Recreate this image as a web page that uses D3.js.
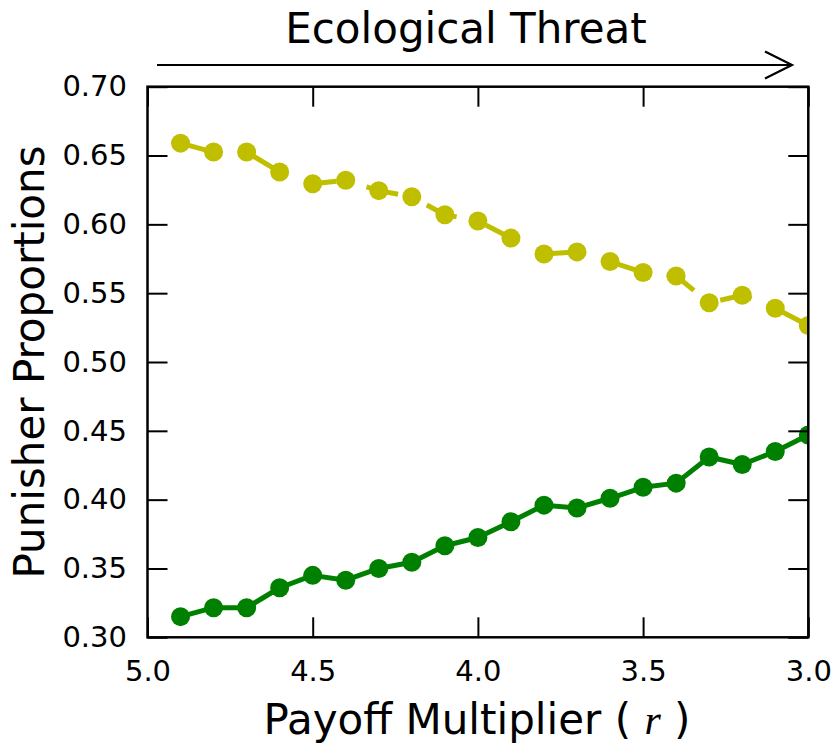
<!DOCTYPE html>
<html>
<head>
<meta charset="utf-8">
<script src="https://cdn.jsdelivr.net/npm/d3@7"></script>
<style>
  html, body { margin: 0; padding: 0; background: #ffffff; }
  svg { display: block; }
  text { font-family: "DejaVu Sans", sans-serif; fill: #000; }
</style>
</head>
<body>
<script>
// Payoff multiplier r (x axis runs from 5.0 down to 3.0)
const multipliers = [4.9, 4.8, 4.7, 4.6, 4.5, 4.4, 4.3, 4.2, 4.1, 4.0,
                     3.9, 3.8, 3.7, 3.6, 3.5, 3.4, 3.3, 3.2, 3.1, 3.0];

// Punisher proportions, dashed olive series
const dashedSeries = [0.659, 0.6525, 0.6525, 0.638, 0.6295, 0.632, 0.6245, 0.620, 0.607, 0.6025,
                      0.590, 0.5785, 0.580, 0.573, 0.565, 0.5625, 0.543, 0.5485, 0.539, 0.5265];

// Punisher proportions, solid green series
const solidSeries = [0.315, 0.3215, 0.3215, 0.336, 0.345, 0.3415, 0.350, 0.3545, 0.3665, 0.3725,
                     0.384, 0.396, 0.394, 0.401, 0.409, 0.412, 0.431, 0.4255, 0.435, 0.447];

const xTicks = [5.0, 4.5, 4.0, 3.5, 3.0];
const yTicks = [0.30, 0.35, 0.40, 0.45, 0.50, 0.55, 0.60, 0.65, 0.70];

const titleText = "Ecological Threat";
const yLabelText = "Punisher Proportions";

const W = 838, H = 743;
const plot = { left: 147.5, right: 808.3, top: 86.7, bottom: 637.3 };

const svg = d3.select("body").append("svg")
  .attr("width", W).attr("height", H);

const x = d3.scaleLinear().domain([5.0, 3.0]).range([plot.left, plot.right]);
const y = d3.scaleLinear().domain([0.30, 0.70]).range([plot.bottom, plot.top]);

svg.append("defs").append("clipPath").attr("id", "plot-clip")
  .append("rect")
  .attr("x", plot.left).attr("y", plot.top)
  .attr("width", plot.right - plot.left).attr("height", plot.bottom - plot.top);

const dataLayer = svg.append("g").attr("clip-path", "url(#plot-clip)");

const line = d3.line().x(d => x(d[0])).y(d => y(d[1]));

function drawSeries(values, color, dashed) {
  const pts = multipliers.map((m, i) => [m, values[i]]);
  const path = dataLayer.append("path")
    .datum(pts)
    .attr("d", line)
    .attr("fill", "none")
    .attr("stroke", color)
    .attr("stroke-width", 5)
    .attr("stroke-linejoin", "round");
  if (dashed) {
    path.attr("stroke-dasharray", "32.5 31").attr("stroke-dashoffset", 58.1);
  }
  dataLayer.append("g").selectAll("circle")
    .data(pts).join("circle")
    .attr("cx", d => x(d[0]))
    .attr("cy", d => y(d[1]))
    .attr("r", 9.5)
    .attr("fill", color);
}

drawSeries(dashedSeries, "#bfbf00", true);
drawSeries(solidSeries, "#008000", false);

// Axes: inward ticks on all four sides, labels on bottom and left
const tickLen = 20;

const gBottom = svg.append("g").attr("transform", `translate(0,${plot.bottom})`)
  .call(d3.axisBottom(x).tickValues(xTicks).tickFormat(d3.format(".1f"))
    .tickSizeInner(-tickLen).tickSizeOuter(0).tickPadding(23));
const gTop = svg.append("g").attr("transform", `translate(0,${plot.top})`)
  .call(d3.axisTop(x).tickValues(xTicks).tickFormat("")
    .tickSizeInner(-tickLen).tickSizeOuter(0));
const gLeft = svg.append("g").attr("transform", `translate(${plot.left},0)`)
  .call(d3.axisLeft(y).tickValues(yTicks).tickFormat(d3.format(".2f"))
    .tickSizeInner(-tickLen).tickSizeOuter(0).tickPadding(20.5));
const gRight = svg.append("g").attr("transform", `translate(${plot.right},0)`)
  .call(d3.axisRight(y).tickValues(yTicks).tickFormat("")
    .tickSizeInner(-tickLen).tickSizeOuter(0));

[gBottom, gTop, gLeft, gRight].forEach(g => {
  g.select(".domain").remove();
  g.selectAll(".tick line").attr("stroke", "#000").attr("stroke-width", 2);
  g.selectAll(".tick text")
    .style("font-family", "'DejaVu Sans', sans-serif")
    .style("font-size", "29px")
    .attr("fill", "#000");
});

// Frame
svg.append("rect")
  .attr("x", plot.left).attr("y", plot.top)
  .attr("width", plot.right - plot.left).attr("height", plot.bottom - plot.top)
  .attr("fill", "none").attr("stroke", "#000").attr("stroke-width", 2.5);

// Axis labels
const xLabel = svg.append("text")
  .attr("x", 477).attr("y", 734)
  .attr("text-anchor", "middle")
  .style("font-size", "42px");
xLabel.append("tspan").text("Payoff Multiplier ( ");
xLabel.append("tspan")
  .style("font-family", "'Liberation Serif', 'DejaVu Serif', serif")
  .style("font-style", "italic")
  .text("r");
xLabel.append("tspan").text(" )");

svg.append("text")
  .attr("transform", `translate(44,${(plot.top + plot.bottom) / 2}) rotate(-90)`)
  .attr("text-anchor", "middle")
  .style("font-size", "42px")
  .text(yLabelText);

// Title with arrow pointing toward increasing threat
svg.append("text")
  .attr("x", 466).attr("y", 43)
  .attr("text-anchor", "middle")
  .style("font-size", "42px")
  .text(titleText);

const arrowY = 65, arrowX0 = 157, arrowX1 = 792;
svg.append("line")
  .attr("x1", arrowX0).attr("x2", arrowX1 - 1)
  .attr("y1", arrowY).attr("y2", arrowY)
  .attr("stroke", "#000").attr("stroke-width", 2);
svg.append("polyline")
  .attr("points", `${arrowX1 - 27},${arrowY - 13.5} ${arrowX1},${arrowY} ${arrowX1 - 27},${arrowY + 13.5}`)
  .attr("fill", "none").attr("stroke", "#000").attr("stroke-width", 2.2);
</script>
</body>
</html>
